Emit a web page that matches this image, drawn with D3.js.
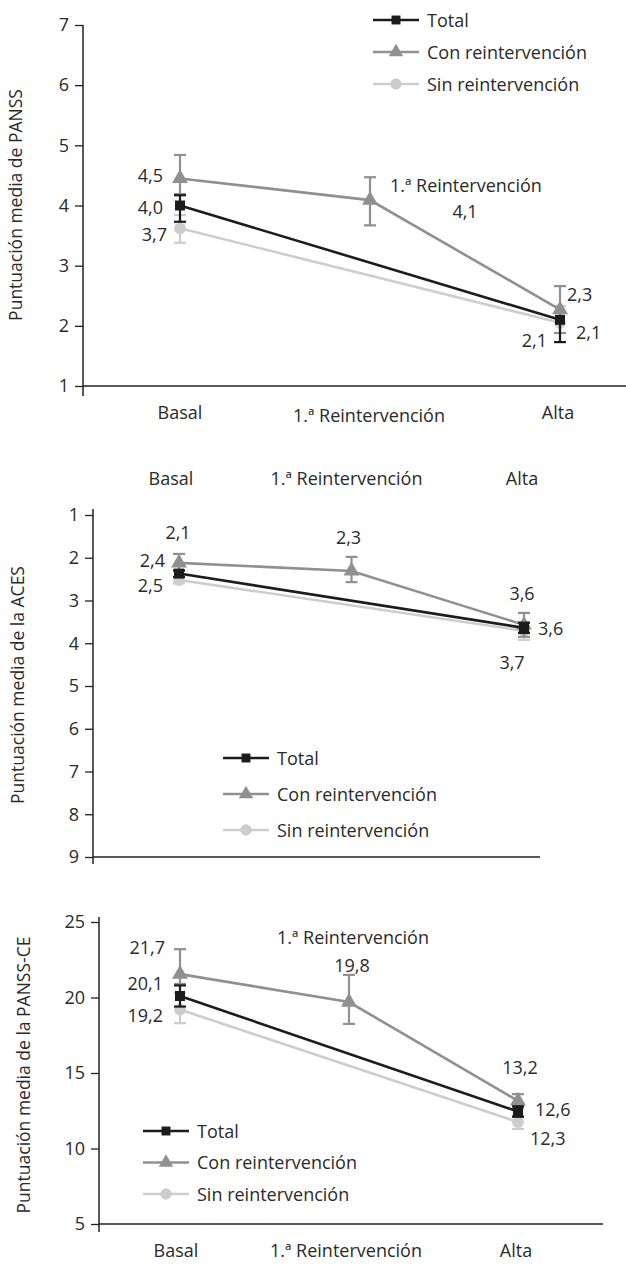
<!DOCTYPE html>
<html><head><meta charset="utf-8">
<script src="https://cdn.jsdelivr.net/npm/d3@7"></script>
<style>
body{margin:0;background:#fff;}
svg text{font-family:"Open Sans",sans-serif;fill:#2a2a2a;}
</style></head>
<body><svg id="c" width="626" height="1265"></svg>
<script>
// ---------- DATA ----------
const categories = ["Basal", "1.ª Reintervención", "Alta"];
const seriesNames = ["Total", "Con reintervención", "Sin reintervención"];

// Panel 1: PANSS
const panssTicks = [1, 2, 3, 4, 5, 6, 7];
const panssTotal = [4.0, null, 2.1];
const panssCon = [4.45, 4.09, 2.27];
const panssSin = [3.62, null, 2.05];
const panssTotalErr = [[3.73, 4.17], null, [1.73, 2.1]];
const panssConErr = [[4.19, 4.84], [3.67, 4.47], [1.88, 2.66]];
const panssSinErr = [[3.38, 3.84], null, [1.73, 2.33]];
const panssTotalLbl = ["4,0", null, "2,1"];
const panssConLbl = ["4,5", "4,1", "2,3"];
const panssSinLbl = ["3,7", null, "2,1"];

// Panel 2: ACES (inverted axis)
const acesTicks = [1, 2, 3, 4, 5, 6, 7, 8, 9];
const acesTotal = [2.37, null, 3.64];
const acesCon = [2.12, 2.31, 3.57];
const acesSin = [2.52, null, 3.71];
const acesTotalErr = [[2.3, 2.45], null, [3.52, 3.76]];
const acesConErr = [[1.91, 2.29], [1.98, 2.57], [3.29, 3.85]];
const acesSinErr = [[2.45, 2.6], null, [3.5, 3.92]];
const acesTotalLbl = ["2,4", null, "3,6"];
const acesConLbl = ["2,1", "2,3", "3,6"];
const acesSinLbl = ["2,5", null, "3,7"];

// Panel 3: PANSS-CE
const ceTicks = [5, 10, 15, 20, 25];
const ceTotal = [20.1, null, 12.45];
const ceCon = [21.55, 19.7, 13.15];
const ceSin = [19.2, null, 11.75];
const ceTotalErr = [[19.4, 20.8], null, [12.1, 12.8]];
const ceConErr = [[20.9, 23.2], [18.25, 21.5], [12.7, 13.6]];
const ceSinErr = [[18.3, 20.3], null, [11.3, 12.2]];
const ceTotalLbl = ["20,1", null, "12,6"];
const ceConLbl = ["21,7", "19,8", "13,2"];
const ceSinLbl = ["19,2", null, "12,3"];

// ---------- STYLE ----------
const colors = ["#1c1c1c", "#909090", "#cdcdcd"];
const svg = d3.select("#c");
const FS = 18;

function drawPanel(cfg) {
  const g = svg.append("g");
  const y = d3.scaleLinear().domain(cfg.domain).range(cfg.yRange);
  const x = d3.scalePoint().domain(categories).range(cfg.xRange);
  const xl = d3.scalePoint().domain(categories).range(cfg.labelRange);

  // axes
  const ya = g.append("g").attr("transform", `translate(${cfg.axisX},0)`)
    .call(d3.axisLeft(y).tickValues(cfg.ticks).tickSize(8).tickPadding(6).tickFormat(d3.format("d")));
  ya.select(".domain").remove();
  ya.selectAll("line").attr("stroke", "#222").attr("stroke-width", 1.3);
  ya.selectAll("text").style("font-size", FS + "px").attr("fill", "#2a2a2a");
  g.append("line").attr("x1", cfg.axisX).attr("x2", cfg.axisX)
    .attr("y1", cfg.axisTop).attr("y2", cfg.axisBottom).attr("stroke", "#222").attr("stroke-width", 1.5);
  g.append("line").attr("x1", cfg.axisX).attr("x2", cfg.axisRight)
    .attr("y1", cfg.xAxisY).attr("y2", cfg.xAxisY).attr("stroke", "#222").attr("stroke-width", 1.5);

  // category labels
  g.selectAll(".cat").data(categories).enter().append("text")
    .attr("x", d => xl(d)).attr("y", (d, i) => cfg.catY + (cfg.catDy ? cfg.catDy[i] : 0))
    .attr("text-anchor", "middle").style("font-size", FS + "px").text(d => d);

  // y title
  g.append("text").attr("transform", `translate(${cfg.titleX},${cfg.titleY}) rotate(-90)`)
    .attr("text-anchor", "middle").style("font-size", "17.5px").text(cfg.title);

  // series
  const order = [2, 1, 0];
  order.forEach(si => {
    const vals = cfg.values[si];
    const pts = categories.map((c, i) => ({ c, v: vals[i], e: cfg.errs[si][i] })).filter(p => p.v != null);
    g.append("path").datum(pts)
      .attr("d", d3.line().x(p => x(p.c)).y(p => y(p.v)))
      .attr("fill", "none").attr("stroke", colors[si]).attr("stroke-width", 2.6);
    pts.filter(p => p.e).forEach(p => {
      const cx = x(p.c);
      g.append("line").attr("x1", cx).attr("x2", cx).attr("y1", y(p.e[0])).attr("y2", y(p.e[1]))
        .attr("stroke", colors[si]).attr("stroke-width", 2.2);
      p.e.forEach(ev => {
        if (Math.abs(ev - p.v) < 1e-9) return;
        g.append("line").attr("x1", cx - 6).attr("x2", cx + 6).attr("y1", y(ev)).attr("y2", y(ev))
          .attr("stroke", colors[si]).attr("stroke-width", 2.2);
      });
    });
    const sym = [d3.symbolSquare, d3.symbolTriangle, d3.symbolCircle][si];
    const size = [100, 110, 110][si];
    g.selectAll(null).data(pts).enter().append("path")
      .attr("d", d3.symbol().type(sym).size(size)())
      .attr("transform", p => `translate(${x(p.c)},${y(p.v)})`)
      .attr("fill", colors[si]);
    // value labels
    categories.forEach((c, i) => {
      const t = cfg.labels[si][i];
      if (t == null) return;
      const o = cfg.lblOff[si][i];
      g.append("text").attr("x", x(c) + o[0]).attr("y", y(vals[i]) + o[1])
        .attr("text-anchor", o[2]).style("font-size", FS + "px").text(t);
    });
  });

  // annotation
  if (cfg.note) {
    const v = cfg.values[1][1];
    g.append("text").attr("x", x(categories[1]) + cfg.note[0]).attr("y", y(v) + cfg.note[1])
      .attr("text-anchor", cfg.note[2]).style("font-size", FS + "px").text(categories[1]);
  }

  // legend
  seriesNames.forEach((n, i) => {
    const ly = cfg.legend.y + i * cfg.legend.dy;
    const lg = g.append("g");
    lg.append("line").attr("x1", cfg.legend.x).attr("x2", cfg.legend.x + 46)
      .attr("y1", ly).attr("y2", ly).attr("stroke", colors[i]).attr("stroke-width", 2.6);
    const sym = [d3.symbolSquare, d3.symbolTriangle, d3.symbolCircle][i];
    lg.append("path").attr("d", d3.symbol().type(sym).size([80, 90, 100][i])())
      .attr("transform", `translate(${cfg.legend.x + 23},${ly})`).attr("fill", colors[i]);
    lg.append("text").attr("x", cfg.legend.x + 54).attr("y", ly + 6.5)
      .style("font-size", FS + "px").text(n);
  });
}

drawPanel({
  domain: [1, 7], yRange: [386, 25], ticks: panssTicks,
  xRange: [180, 560], labelRange: [180, 558], catY: 419, catDy: [0, 3, 0],
  axisX: 83, axisTop: 25, axisBottom: 396, axisRight: 626, xAxisY: 386,
  title: "Puntuación media de PANSS", titleX: 22, titleY: 205,
  values: [panssTotal, panssCon, panssSin], errs: [panssTotalErr, panssConErr, panssSinErr],
  labels: [panssTotalLbl, panssConLbl, panssSinLbl],
  lblOff: [[[-17, 8, "end"], null, [16, 19, "start"]],
           [[-17, 4, "end"], [95, 18, "middle"], [7, -9, "start"]],
           [[-13, 13, "end"], null, [-13, 24, "end"]]],
  note: [20, -8, "start"],
  legend: { x: 373, y: 20, dy: 32 }
});

drawPanel({
  domain: [1, 9], yRange: [515, 857], ticks: acesTicks,
  xRange: [179, 524], labelRange: [171, 522], catY: 485,
  axisX: 93, axisTop: 509, axisBottom: 864, axisRight: 540, xAxisY: 857,
  title: "Puntuación media de la ACES", titleX: 24, titleY: 685,
  values: [acesTotal, acesCon, acesSin], errs: [acesTotalErr, acesConErr, acesSinErr],
  labels: [acesTotalLbl, acesConLbl, acesSinLbl],
  lblOff: [[[-14, -7, "end"], null, [14, 7, "start"]],
           [[-1, -24, "middle"], [-3, -27, "middle"], [-2, -25, "middle"]],
           [[-16, 12, "end"], null, [-12, 38, "middle"]]],
  legend: { x: 223, y: 758, dy: 36 }
});

drawPanel({
  domain: [5, 25], yRange: [1224, 922], ticks: ceTicks,
  xRange: [180, 518], labelRange: [176, 516], catY: 1257,
  axisX: 99, axisTop: 917, axisBottom: 1232, axisRight: 603, xAxisY: 1224,
  title: "Puntuación media de la PANSS-CE", titleX: 30, titleY: 1075,
  values: [ceTotal, ceCon, ceSin], errs: [ceTotalErr, ceConErr, ceSinErr],
  labels: [ceTotalLbl, ceConLbl, ceSinLbl],
  lblOff: [[[-17, -6, "end"], null, [17, 4, "start"]],
           [[-15, -20, "end"], [3, -30, "middle"], [2, -27, "middle"]],
           [[-17, 12, "end"], null, [12, 23, "start"]]],
  note: [4, -58, "middle"],
  legend: { x: 143, y: 1131, dy: 31.5 }
});
</script></body></html>
